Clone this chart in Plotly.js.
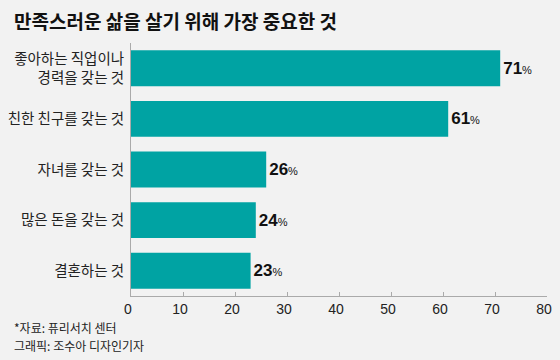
<!DOCTYPE html>
<html>
<head>
<meta charset="utf-8">
<script src="https://cdn.plot.ly/plotly-3.0.1.min.js"></script>
<style>
html,body{margin:0;padding:0;background:#f2f2f2;}
#chart{width:560px;height:360px;}
</style>
</head>
<body>
<div id="chart"></div>
<script>
var categories = ["좋아하는 직업이나<br>경력을 갖는 것", "친한 친구를 갖는 것", "자녀를 갖는 것", "많은 돈을 갖는 것", "결혼하는 것"];
var values = [71, 61, 26, 24, 23];
var xTicks = [0, 10, 20, 30, 40, 50, 60, 70, 80];

var labels = values.map(function(v){
  return "<b>" + v + "</b><span style='font-size:11px'>%</span>";
});

var trace = {
  type: "bar",
  orientation: "h",
  x: values,
  y: categories,
  marker: {color: "#00a3a3"},
  text: labels,
  textposition: "outside",
  cliponaxis: false,
  textfont: {family: "Liberation Sans Narrow, Liberation Sans, Arial", size: 17, color: "#111"},
  hoverinfo: "none"
};

var layout = {
  width: 560, height: 360,
  paper_bgcolor: "#f2f2f2",
  plot_bgcolor: "#f2f2f2",
  margin: {l: 131, r: 13, t: 43, b: 64},
  bargap: 0.29,
  showlegend: false,
  title: {
    text: "<b>만족스러운 삶을 살기 위해 가장 중요한 것</b>",
    font: {family: "Noto Sans CJK KR", size: 19, color: "#111"},
    x: 14/560, xanchor: "left", xref: "container",
    y: 1 - 22/360, yanchor: "middle", yref: "container"
  },
  xaxis: {
    range: [0, 80],
    tickvals: xTicks,
    ticktext: xTicks.map(String),
    showgrid: false,
    zeroline: false,
    showline: true,
    linecolor: "#aaaaaa",
    linewidth: 1,
    ticks: "inside",
    ticklen: 4,
    tickcolor: "#aaaaaa",
    ticklabelshift: -3,
    tickfont: {family: "Liberation Sans, Arial", size: 14, color: "#222"},
    fixedrange: true
  },
  yaxis: {
    autorange: "reversed",
    showgrid: false,
    zeroline: false,
    showline: true,
    linecolor: "#aaaaaa",
    linewidth: 1,
    ticks: "",
    ticklabelstandoff: 3,
    tickfont: {family: "Noto Sans CJK KR", size: 14.5, color: "#222"},
    fixedrange: true
  },
  annotations: [
    {
      text: "*자료: 퓨리서치 센터",
      xref: "paper", yref: "paper",
      x: -131/416, y: 0, xanchor: "left", yanchor: "middle",
      xshift: 12, yshift: -31,
      showarrow: false,
      font: {family: "Noto Sans CJK KR", size: 12, color: "#222"}
    },
    {
      text: "그래픽: 조수아 디자인기자",
      xref: "paper", yref: "paper",
      x: -131/416, y: 0, xanchor: "left", yanchor: "middle",
      xshift: 12, yshift: -49,
      showarrow: false,
      font: {family: "Noto Sans CJK KR", size: 12, color: "#222"}
    }
  ]
};

Plotly.newPlot("chart", [trace], layout, {displayModeBar: false, staticPlot: true});
</script>
</body>
</html>
